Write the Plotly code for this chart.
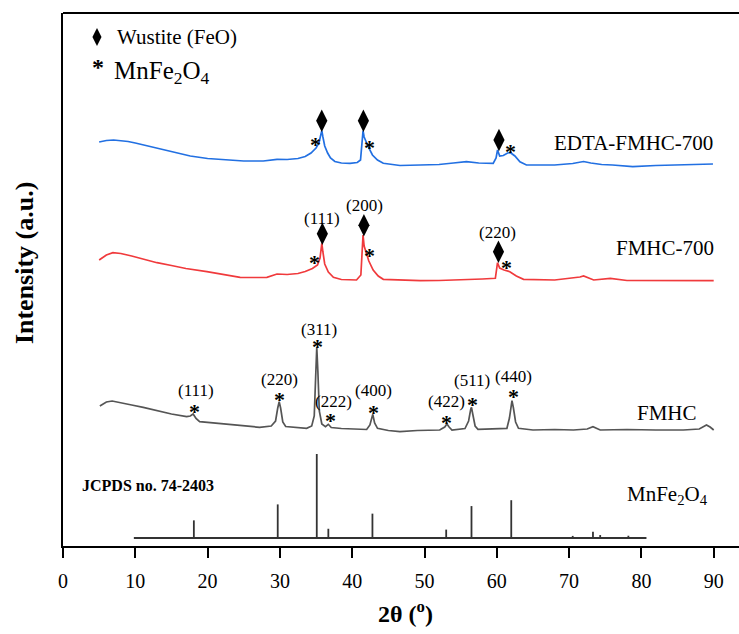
import plotly.graph_objects as go

# ---- XRD patterns (2θ in degrees, intensity in arbitrary units incl. stacking offset) ----
two_theta_edta = [5.0, 6.0, 7.0, 8.0, 9.0, 10.0, 11.5, 13.0, 15.0, 17.6, 20.0, 22.5, 25.0, 27.7,
                  28.8, 29.6, 31.0, 32.5, 33.5, 34.3, 35.0, 35.4, 35.65, 35.8, 35.95, 36.2, 36.6,
                  37.0, 37.6, 38.5, 39.7, 40.7, 41.15, 41.35, 41.5, 41.65, 41.9, 42.3, 42.8, 43.5,
                  44.3, 46.6, 49.4, 52.0, 54.0, 55.8, 57.5, 59.5, 59.9, 60.1, 60.4, 60.9, 61.5,
                  61.9, 62.5, 63.2, 64.1, 66.0, 68.0, 70.5, 72.0, 73.0, 74.5, 76.0, 78.8, 82.0,
                  86.0, 89.9]
intensity_edta = [404, 405.5, 406, 405.5, 404.5, 403, 400.5, 397.5, 394, 390, 387.5, 386, 385, 385,
                  386, 386.7, 386.5, 387.5, 389.5, 393, 398, 403, 411, 415.3, 409, 400, 393,
                  388, 384.5, 383, 382.7, 383.5, 386, 401, 415.3, 409, 404.5, 398, 391, 386,
                  382.7, 380.5, 381, 381.5, 383, 384.3, 383, 382.7, 388, 396, 390, 390.5, 393,
                  393.3, 390, 384.3, 381, 381, 381, 382.5, 384.5, 383, 381.5, 381, 379.3, 380.5,
                  381, 382]

two_theta_fmhc700 = [5.0, 6.0, 6.9, 8.0, 9.5, 11.0, 13.0, 15.0, 17.0, 19.9, 22.0, 24.5, 26.5, 28.2,
                     29.6, 31.0, 32.5, 33.5, 34.5, 35.2, 35.55, 35.8, 35.95, 36.2, 36.7, 37.4, 38.5,
                     40.6, 41.2, 41.35, 41.5, 41.65, 41.9, 42.3, 42.9, 43.6, 44.3, 46.6, 49.4, 52.0,
                     55.8, 58.0, 59.8, 60.0, 60.1, 60.4, 61.0, 61.8, 62.7, 63.7, 66.0, 68.0, 71.5,
                     72.0, 73.4, 75.7, 78.0, 80.0, 85.0, 90.0]
intensity_fmhc700 = [286, 291, 293.3, 292.5, 290, 287, 283.3, 280.5, 277.5, 274.3, 271.5, 268.7, 268.5,
                     268.7, 272, 271.5, 272.5, 274.5, 277.5, 281, 288, 302.7, 294, 282, 274, 268.7,
                     266.5, 266, 271, 291, 311, 300, 295, 285, 276, 270, 266.7, 266, 265.3, 265.5,
                     266, 267, 267.7, 278, 283.3, 278, 276, 274.3, 270, 266.7, 266, 266, 269,
                     270, 266, 267.7, 265.5, 265.5, 266, 265.3]

two_theta_fmhc = [5.1, 6.0, 6.8, 8.0, 9.5, 11.1, 13.0, 15.0, 17.1, 17.6, 18.0, 18.4, 18.9, 20.0,
                  22.0, 24.5, 27.2, 28.8, 29.4, 29.7, 29.9, 30.1, 30.4, 30.8, 32.0, 33.7, 34.4,
                  34.75, 34.95, 35.1, 35.25, 35.45, 35.8, 36.3, 36.7, 37.1, 38.5, 40.0, 42.0,
                  42.45, 42.75, 42.85, 43.1, 43.5, 45.0, 46.6, 49.0, 52.1, 52.8, 53.1, 53.4, 53.8,
                  55.6, 56.1, 56.4, 56.5, 56.7, 57.0, 57.4, 59.0, 61.4, 61.75, 62.0, 62.1, 62.3,
                  62.6, 63.0, 65.0, 68.0, 70.6, 72.5, 73.3, 74.3, 78.0, 82.0, 85.8, 88.0, 89.0,
                  89.5, 90.0]
intensity_fmhc = [140, 144, 145, 143.5, 141, 138.7, 135.5, 132, 129.3, 130, 132, 127.5, 124.3, 123.5,
                  122, 120.5, 118.7, 120, 125, 138, 144.3, 138, 124, 119.5, 119, 117.7, 120,
                  130, 170, 198.7, 175, 135, 122, 119.3, 121.7, 118.5, 117.5, 117, 116.5,
                  121, 131, 131.7, 123, 117.7, 115.5, 114.3, 115.5, 116, 119, 122, 119, 116,
                  117.5, 125, 137, 138.7, 131, 120, 116.7, 117, 117.7, 128, 143, 145.3, 138,
                  124, 117.7, 116, 116.5, 116, 117, 119.3, 116, 116.5, 116, 116, 117, 121,
                  119, 116]

# ---- Reference pattern JCPDS no. 74-2403 (MnFe2O4) ----
jcpds_two_theta = [18.1, 29.7, 35.1, 36.7, 42.8, 53.0, 56.5, 62.0, 70.5, 73.3, 74.3, 78.2]
jcpds_rel_intensity = [21, 40, 100, 11, 29, 10, 38, 45, 2.5, 7.5, 3.5, 2.7]
jcpds_base = 8
jcpds_scale = 0.84
jcpds_span = [9.8, 80.7]

# ---- Peak markers: Miller indices and label / symbol positions ----
fmhc_hkl = ["(111)", "(220)", "(311)", "(222)", "(400)", "(422)", "(511)", "(440)"]
fmhc_label_pos = [(18.36, 156), (29.88, 167), (35.42, 216.7), (37.4, 145), (42.93, 156),
                  (53.1, 144.3), (56.55, 165.3), (62.3, 169.3)]
fmhc_star_pos = [(18.12, 139.3), (29.88, 152), (35.24, 204.3), (37.04, 131), (42.93, 138.7),
                 (53.1, 128.3), (56.63, 146.7), (62.3, 154.3)]

fmhc700_hkl = ["(111)", "(200)", "(220)"]
fmhc700_label_pos = [(35.87, 327.7), (41.64, 341), (60.08, 313.3)]
fmhc700_diamond_pos = [(35.87, 312.2), (41.62, 320.7), (60.23, 294.3)]
fmhc700_star_pos = [(34.77, 289), (42.34, 296), (61.38, 284)]

edta_diamond_pos = [(35.79, 425.2), (41.55, 425.2), (60.3, 406)]
edta_star_pos = [(34.86, 407), (42.4, 404), (61.84, 400)]

FONT = "Liberation Serif"
BLUE = "#2270E2"
RED = "#F03A3C"
GRAY = "#555555"

fig = go.Figure()

fig.add_trace(go.Scatter(x=two_theta_edta, y=intensity_edta, mode="lines",
                         line=dict(color=BLUE, width=1.7), showlegend=False))
fig.add_trace(go.Scatter(x=two_theta_fmhc700, y=intensity_fmhc700, mode="lines",
                         line=dict(color=RED, width=1.7), showlegend=False))
fig.add_trace(go.Scatter(x=two_theta_fmhc, y=intensity_fmhc, mode="lines",
                         line=dict(color=GRAY, width=1.7), showlegend=False))

# reference stick pattern
stick_x, stick_y = [], []
for t, r in zip(jcpds_two_theta, jcpds_rel_intensity):
    stick_x += [t, t, None]
    stick_y += [jcpds_base, jcpds_base + r * jcpds_scale, None]
fig.add_trace(go.Scatter(x=jcpds_span, y=[jcpds_base, jcpds_base], mode="lines",
                         line=dict(color="#333333", width=1.8), showlegend=False))
fig.add_trace(go.Scatter(x=stick_x, y=stick_y, mode="lines",
                         line=dict(color="#333333", width=1.8), showlegend=False))

# wustite diamonds
dia = edta_diamond_pos + fmhc700_diamond_pos
fig.add_trace(go.Scatter(x=[p[0] for p in dia], y=[p[1] for p in dia], mode="markers",
                         marker=dict(symbol="diamond-tall", size=16, color="black"),
                         showlegend=False))
fig.add_trace(go.Scatter(x=[4.7], y=[509], mode="markers",
                         marker=dict(symbol="diamond-tall", size=13, color="black"),
                         showlegend=False))

annotations = []


def star(x, y, size=22):
    annotations.append(dict(x=x, y=y, xref="x", yref="y", text="<b>*</b>", showarrow=False,
                            yshift=-5, font=dict(family=FONT, size=size, color="black")))


def label(x, y, text, size=17, **kw):
    annotations.append(dict(x=x, y=y, xref="x", yref="y", text=text, showarrow=False,
                            font=dict(family=FONT, size=size, color="black"), **kw))


for p in edta_star_pos + fmhc700_star_pos + fmhc_star_pos:
    star(*p)
for t, p in zip(fmhc700_hkl, fmhc700_label_pos):
    label(p[0], p[1], t)
for t, p in zip(fmhc_hkl, fmhc_label_pos):
    label(p[0], p[1], t)

# sample names
label(78.95, 403, "EDTA-FMHC-700", size=21)
label(83.3, 298, "FMHC-700", size=21)
label(83.6, 133.5, "FMHC", size=21)
label(83.6, 51, "MnFe<sub>2</sub>O<sub>4</sub>", size=21)
label(2.4, 61, "<b>JCPDS no. 74-2403</b>", size=16, xanchor="left")

# symbol key
label(7.2, 509, "Wustite (FeO)", size=21, xanchor="left")
star(4.85, 484, size=24)
label(6.8, 474, "MnFe<sub>2</sub>O<sub>4</sub>", size=25, xanchor="left")

# axis titles
annotations.append(dict(x=-0.056, y=0.531, xref="paper", yref="paper", text="<b>Intensity (a.u.)</b>",
                        textangle=-90, showarrow=False, xanchor="center", yanchor="middle",
                        font=dict(family=FONT, size=26, color="black")))
annotations.append(dict(x=0.507, y=-0.124, xref="paper", yref="paper", text="<b>2θ (<sup>o</sup>)</b>",
                        showarrow=False, xanchor="center", yanchor="middle",
                        font=dict(family=FONT, size=24, color="black")))

# axis frame: bottom and left axes plus the top edge
fig.add_shape(type="line", xref="paper", yref="paper", x0=0, x1=1, y0=1, y1=1,
              line=dict(color="black", width=2))

fig.update_layout(
    width=739, height=634,
    margin=dict(l=63, r=0, t=13, b=88),
    paper_bgcolor="white", plot_bgcolor="white",
    annotations=annotations,
    xaxis=dict(range=[0, 93.5], tickmode="array", tickvals=list(range(0, 100, 10)),
               ticks="outside", ticklen=10, tickwidth=2, tickcolor="black",
               showline=True, linewidth=2, linecolor="black", mirror=False,
               showgrid=False, zeroline=False, ticklabelstandoff=6,
               tickfont=dict(family=FONT, size=20, color="black")),
    yaxis=dict(range=[0, 533], showticklabels=False, ticks="",
               showline=True, linewidth=2, linecolor="black", mirror=False,
               showgrid=False, zeroline=False),
)

fig.write_html("out.html")
